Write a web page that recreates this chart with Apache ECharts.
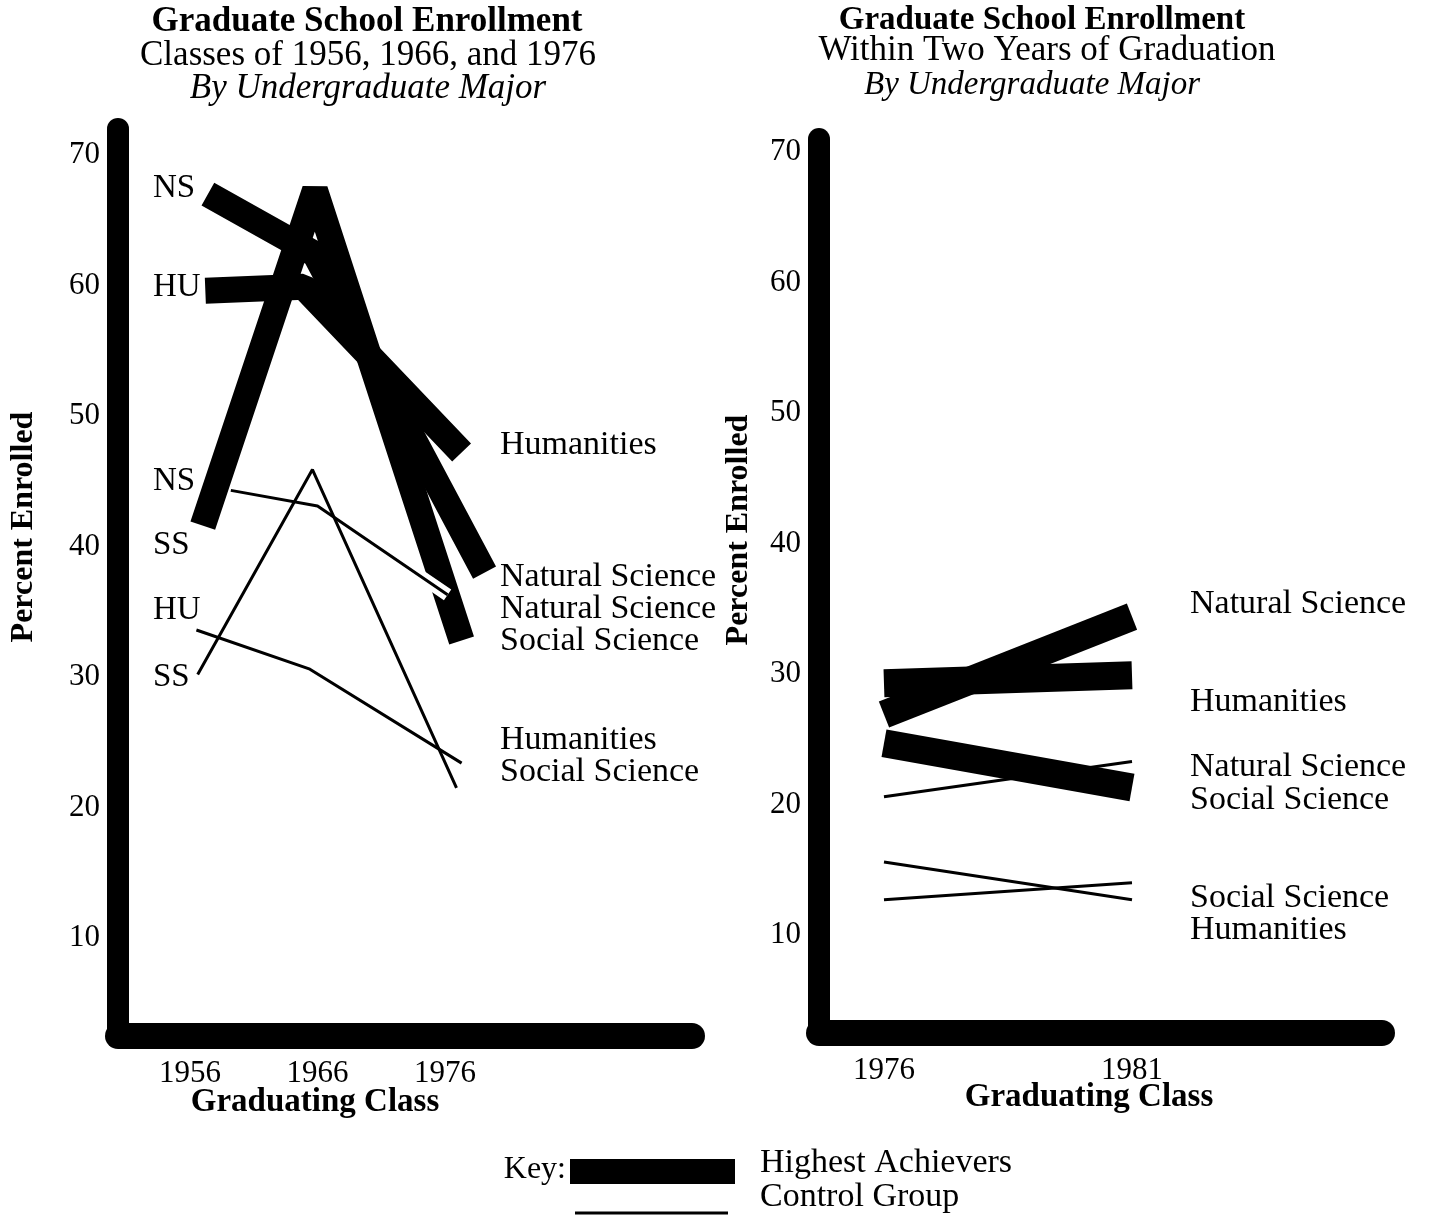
<!DOCTYPE html>
<html><head><meta charset="utf-8">
<script src="https://cdn.jsdelivr.net/npm/echarts@6/dist/echarts.min.js"></script>
<style>html,body{margin:0;padding:0;background:#fff;}#c{width:1432px;height:1216px;}</style>
</head><body><div id="c"></div>
<script>
// ---------- data ----------
const yTicks = [10, 20, 30, 40, 50, 60, 70];
const xTicksLeft = [1956, 1966, 1976];
const xTicksRight = [1976, 1981];

// Left panel: [graduating class (position on drawing), percent enrolled]
const leftHighNS = [[1957.4, 67.0], [1965.8, 62.4], [1979.1, 38.0]];
const leftHighHU = [[1957.2, 59.6], [1964.9, 59.9], [1977.3, 47.2]];
const leftHighSS = [[1957.0, 41.6], [1965.8, 67.3], [1977.3, 32.8]];
const leftCtrlNS = [[1959.2, 44.3], [1966.0, 43.1], [1976.2, 36.3]];
const leftCtrlSS = [[1956.6, 30.2], [1965.6, 45.9], [1976.9, 21.5]];
const leftCtrlHU = [[1956.5, 33.6], [1965.4, 30.6], [1977.3, 23.4]];

// Right panel
const rightYears = [1976, 1981];
const rightHighNS = [26.9, 34.4];
const rightHighHU = [29.3, 29.9];
const rightHighSS = [24.7, 21.3];
const rightCtrlNS = [20.6, 23.3];
const rightCtrlSS = [15.6, 12.7];
const rightCtrlHU = [12.7, 14.0];

const leftStartLabels = ['NS', 'HU', 'NS', 'SS', 'HU', 'SS'];
const leftEndLabels = ['Humanities', 'Natural Science', 'Natural Science', 'Social Science', 'Humanities', 'Social Science'];
const rightEndLabels = ['Natural Science', 'Humanities', 'Natural Science', 'Social Science', 'Social Science', 'Humanities'];

const titleLeft = ['Graduate School Enrollment', 'Classes of 1956, 1966, and 1976', 'By Undergraduate Major'];
const titleRight = ['Graduate School Enrollment', 'Within Two Years of Graduation', 'By Undergraduate Major'];
const yName = 'Percent Enrolled';
const xName = 'Graduating Class';
const keyTexts = ['Key:', 'Highest Achievers', 'Control Group'];

// ---------- layout / style ----------
const FF = '"Liberation Serif", "Times New Roman", serif';
const pair = arr => rightYears.map((y, i) => [y, arr[i]]);

function T(text, x, y, size, o) {
  o = o || {};
  return {
    type: 'text', x: x, y: y, rotation: o.rot || 0, z: 100,
    style: {
      text: text, fill: '#000',
      font: (o.italic ? 'italic ' : '') + (o.bold ? 'bold ' : '') + size + 'px ' + FF,
      align: o.align || 'left', verticalAlign: 'middle'
    }
  };
}

const leftStartY = [188, 287, 481, 545, 610, 677];
const leftEndY = [445, 577, 609, 641, 740, 772];
const rightEndY = [604, 702, 767, 800, 898, 930];

const graphics = [];
graphics.push(T(titleLeft[0], 367, 22, 35, {bold: true, align: 'center'}));
graphics.push(T(titleLeft[1], 368, 56, 35, {align: 'center'}));
graphics.push(T(titleLeft[2], 368, 89, 35, {italic: true, align: 'center'}));
graphics.push(T(titleRight[0], 1042, 20, 33, {bold: true, align: 'center'}));
graphics.push(T(titleRight[1], 1047, 51, 35, {align: 'center'}));
graphics.push(T(titleRight[2], 1032, 85, 33, {italic: true, align: 'center'}));
leftStartLabels.forEach((t, i) => graphics.push(T(t, 153, leftStartY[i], 33)));
leftEndLabels.forEach((t, i) => graphics.push(T(t, 500, leftEndY[i], 34)));
rightEndLabels.forEach((t, i) => graphics.push(T(t, 1190, rightEndY[i], 34)));
graphics.push(T(yName, 24, 527, 32, {bold: true, align: 'center', rot: Math.PI / 2}));
graphics.push(T(yName, 739, 530, 32, {bold: true, align: 'center', rot: Math.PI / 2}));
graphics.push(T(xName, 315, 1102, 33, {bold: true, align: 'center'}));
graphics.push(T(xName, 1089, 1097, 33, {bold: true, align: 'center'}));
graphics.push(T(keyTexts[0], 566, 1170, 32, {align: 'right'}));
graphics.push(T(keyTexts[1], 760, 1163, 34));
graphics.push(T(keyTexts[2], 760, 1197, 34));
graphics.push({type: 'rect', shape: {x: 570, y: 1159, width: 165, height: 25}, style: {fill: '#000'}, z: 100});
graphics.push({type: 'line', shape: {x1: 575, y1: 1213, x2: 728, y2: 1213}, style: {stroke: '#000', lineWidth: 3}, z: 100});

function xAx(grid, min, max, ticks) {
  return {
    type: 'value', gridIndex: grid, min: min, max: max,
    axisLine: {show: true, onZero: false, lineStyle: {color: '#000', width: 26, cap: 'round'}},
    axisTick: {show: false}, splitLine: {show: false},
    axisLabel: {customValues: ticks, margin: 22, color: '#000', fontFamily: FF, fontSize: 31, formatter: v => String(v)}
  };
}
function yAx(grid, max) {
  return {
    type: 'value', gridIndex: grid, min: 2.5, max: max,
    axisLine: {show: true, onZero: false, lineStyle: {color: '#000', width: 22, cap: 'round'}},
    axisTick: {show: false}, splitLine: {show: false},
    axisLabel: {customValues: yTicks, margin: 18, color: '#000', fontFamily: FF, fontSize: 31, formatter: v => String(v)}
  };
}
function S(data, grid, thick, z, color) {
  return {
    type: 'line', xAxisIndex: grid, yAxisIndex: grid, data: data, symbol: 'none', silent: true,
    z: z, clip: false,
    lineStyle: {color: color || '#000', width: thick, cap: 'butt', join: 'bevel'}
  };
}

const option = {
  backgroundColor: '#fff',
  animation: false,
  grid: [
    {left: 118, top: 128.9, width: 574, height: 907},
    {left: 819, top: 139, width: 563, height: 893.9}
  ],
  xAxis: [xAx(0, 1950.35, 1995.37, xTicksLeft), xAx(1, 1974.69, 1986.04, xTicksRight)],
  yAxis: [yAx(0, 72), yAx(1, 71)],
  series: [
    S(leftHighNS, 0, 26, 3), S(leftHighHU, 0, 26, 3), S(leftHighSS, 0, 26, 3),
    S(leftCtrlNS, 0, 13, 4, '#fff'),
    S(leftCtrlNS, 0, 3, 5), S(leftCtrlSS, 0, 3, 5), S(leftCtrlHU, 0, 3, 5),
    S(pair(rightCtrlNS), 1, 3, 2), S(pair(rightCtrlSS), 1, 3, 2), S(pair(rightCtrlHU), 1, 3, 2),
    S(pair(rightHighNS), 1, 28, 3), S(pair(rightHighHU), 1, 28, 3), S(pair(rightHighSS), 1, 28, 3)
  ],
  graphic: graphics
};
const chart = echarts.init(document.getElementById('c'), null, {renderer: 'canvas'});
chart.setOption(option);
</script></body></html>
